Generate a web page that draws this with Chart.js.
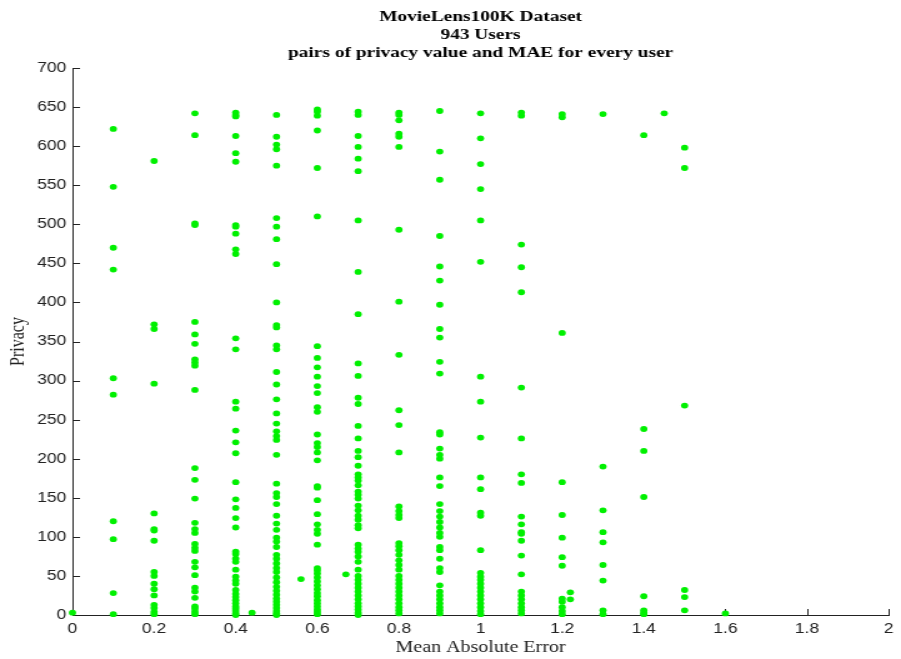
<!DOCTYPE html>
<html>
<head>
<meta charset="utf-8">
<script src="https://cdn.jsdelivr.net/npm/chart.js@4.4.1/dist/chart.umd.min.js"></script>
<style>
  html, body { margin: 0; padding: 0; background: #fff; }
  #grafico { display: block; }
</style>
</head>
<body>
<!-- the original figure is stretched sideways, so draw narrow and widen with CSS -->
<canvas id="grafico" width="721" height="659" style="width:901px;height:659px"></canvas>
<script>
// MAE levels (x) and the privacy values seen in each column
const maeLevels = [0, 0.1, 0.2, 0.3, 0.4, 0.5, 0.6, 0.7, 0.8, 0.9, 1.0, 1.1, 1.2, 1.3, 1.4, 1.5, 1.6];
const privacyByLevel = [
    [3],
    [622, 548, 470, 442, 303, 282, 120, 97, 28, 1],
    [581, 372, 366, 296, 130, 110, 108, 95, 55, 50, 40, 33, 25, 13, 9, 4, 1],
    [642, 614, 501, 499, 375, 359, 347, 327, 323, 319, 288, 188, 173, 149, 118, 110, 105, 91, 86, 82, 68, 61, 51, 35, 30, 22, 11, 8, 4, 1],
    [643, 640, 638, 613, 591, 580, 499, 497, 488, 468, 462, 354, 340, 273, 264, 236, 221, 207, 170, 148, 137, 124, 112, 81, 78, 72, 68, 58, 49, 44, 40, 32, 27, 23, 19, 15, 11, 8, 5, 2, 0],
    [640, 612, 602, 596, 575, 508, 497, 481, 449, 400, 371, 368, 345, 340, 311, 295, 276, 258, 245, 235, 229, 224, 205, 168, 156, 151, 142, 127, 117, 109, 99, 94, 87, 77, 72, 66, 60, 55, 48, 42, 36, 31, 26, 21, 17, 13, 9, 5, 2, 0],
    [647, 644, 639, 620, 572, 510, 344, 329, 317, 305, 293, 284, 266, 260, 231, 220, 215, 208, 198, 165, 163, 147, 129, 116, 109, 104, 90, 60, 57, 53, 48, 43, 38, 33, 28, 24, 19, 15, 11, 7, 4, 1],
    [644, 640, 613, 599, 584, 568, 505, 439, 385, 322, 306, 278, 270, 242, 226, 210, 202, 191, 180, 176, 172, 166, 158, 154, 149, 140, 134, 127, 122, 115, 111, 90, 85, 81, 75, 68, 58, 50, 45, 40, 35, 30, 25, 20, 15, 11, 7, 3, 0],
    [643, 640, 633, 616, 612, 599, 493, 401, 333, 262, 243, 208, 139, 133, 128, 124, 92, 88, 83, 77, 70, 64, 58, 50, 45, 40, 35, 30, 25, 20, 15, 10, 6, 2],
    [645, 593, 557, 485, 446, 428, 397, 366, 355, 324, 309, 234, 231, 213, 205, 200, 176, 165, 142, 133, 126, 119, 112, 105, 100, 87, 83, 72, 60, 55, 38, 30, 25, 20, 15, 10, 6, 2],
    [642, 610, 577, 545, 505, 452, 305, 273, 227, 176, 161, 131, 127, 83, 54, 49, 45, 40, 35, 30, 25, 20, 15, 10, 5, 1],
    [643, 639, 474, 445, 413, 291, 226, 180, 169, 126, 116, 106, 104, 95, 76, 52, 30, 25, 20, 15, 10, 6, 2],
    [641, 637, 361, 170, 128, 99, 74, 63, 21, 17, 10, 5, 1],
    [641, 190, 134, 106, 93, 64, 44, 6, 1],
    [614, 238, 210, 151, 24, 6, 3, 1],
    [598, 572, 268, 32, 23, 6],
    [2]
];
// the few points that sit between columns
const strayMae = [0.44, 0.56, 0.67, 1.22, 1.22, 1.45];
const strayPrivacy = [3, 46, 52, 29, 20, 642];

const xTicks = [0, 0.2, 0.4, 0.6, 0.8, 1, 1.2, 1.4, 1.6, 1.8, 2];
const yTicks = [0, 50, 100, 150, 200, 250, 300, 350, 400, 450, 500, 550, 600, 650, 700];
const titleLines = ['MovieLens100K Dataset', '943 Users', 'pairs of privacy value and MAE for every user'];

const pontos = [];
maeLevels.forEach((mae, i) => {
    privacyByLevel[i].forEach(p => pontos.push({ x: mae, y: p }));
});
strayMae.forEach((mae, i) => pontos.push({ x: mae, y: strayPrivacy[i] }));

// MATLAB style ticks that point into the plot
const ticksInward = {
    id: 'ticksInward',
    beforeDatasetsDraw(chart) {
        const { ctx, chartArea, scales } = chart;
        ctx.save();
        ctx.strokeStyle = '#222';
        ctx.lineWidth = 1;
        ctx.beginPath();
        scales.x.ticks.forEach(t => {
            const px = Math.round(scales.x.getPixelForValue(t.value)) + 0.5;
            ctx.moveTo(px, chartArea.bottom);
            ctx.lineTo(px, chartArea.bottom - 6);
        });
        scales.y.ticks.forEach(t => {
            const py = Math.round(scales.y.getPixelForValue(t.value)) + 0.5;
            ctx.moveTo(chartArea.left, py);
            ctx.lineTo(chartArea.left + 6, py);
        });
        ctx.stroke();
        ctx.restore();
    }
};

const tickFont = { family: "'Liberation Sans', Arial, sans-serif", size: 14 };
const serif = "'Liberation Serif', 'Times New Roman', serif";

new Chart(document.getElementById('grafico'), {
    type: 'scatter',
    data: {
        datasets: [{
            label: 'users',
            data: pontos,
            backgroundColor: 'rgb(0, 240, 0)',
            borderWidth: 0,
            pointRadius: 2.9,
            pointHoverRadius: 2.9,
            clip: false
        }]
    },
    options: {
        responsive: false,
        animation: false,
        devicePixelRatio: 1,
        layout: { padding: { left: 0, right: 2, top: 0, bottom: 0 } },
        plugins: {
            legend: { display: false },
            tooltip: { enabled: false },
            title: {
                display: true,
                fullSize: false,
                text: titleLines,
                color: '#000',
                font: { family: serif, size: 15.5, weight: 'bold', lineHeight: '18px' },
                padding: { top: 8, bottom: 6 }
            }
        },
        scales: {
            x: {
                type: 'linear',
                min: 0,
                max: 2,
                afterBuildTicks: s => { s.ticks = xTicks.map(v => ({ value: v })); },
                afterFit: s => { s.height = 44; },
                grid: { display: false, drawTicks: false },
                border: { display: true, color: '#222', width: 1 },
                ticks: {
                    color: '#222', font: tickFont, padding: 6, maxRotation: 0, autoSkip: false,
                    callback: v => String(Math.round(v * 10) / 10)
                },
                title: {
                    display: true,
                    text: 'Mean Absolute Error',
                    color: '#222',
                    font: { family: serif, size: 16 },
                    padding: { top: 0, bottom: 2 }
                }
            },
            y: {
                type: 'linear',
                min: 0,
                max: 700,
                afterBuildTicks: s => { s.ticks = yTicks.map(v => ({ value: v })); },
                afterFit: s => { s.width = 58; },
                grid: { display: false, drawTicks: false },
                border: { display: true, color: '#222', width: 1 },
                ticks: { color: '#222', font: tickFont, padding: 5, autoSkip: false },
                title: {
                    display: true,
                    text: 'Privacy',
                    color: '#222',
                    font: { family: serif, size: 16 },
                    padding: { top: 5, bottom: 0 }
                }
            }
        }
    },
    plugins: [ticksInward]
});
</script>
</body>
</html>
